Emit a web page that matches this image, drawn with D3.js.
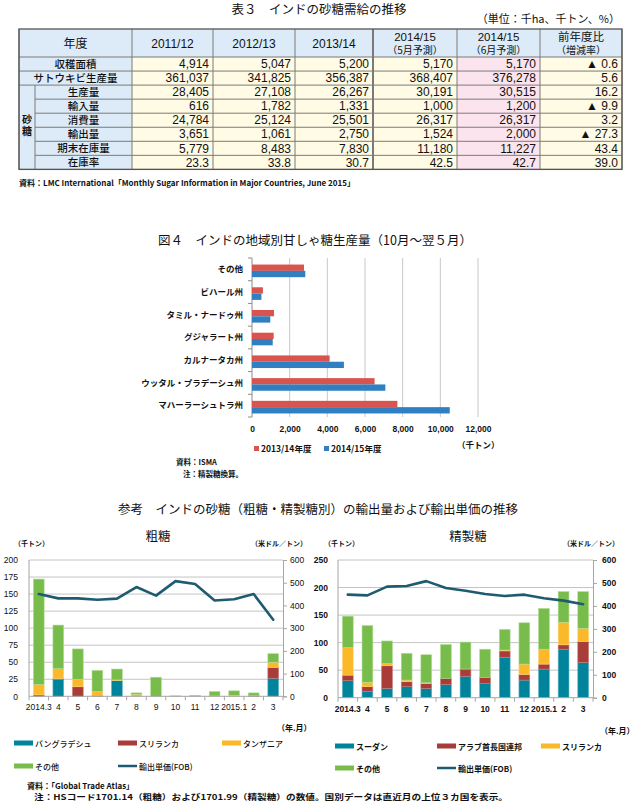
<!DOCTYPE html>
<html><head><meta charset="utf-8">
<script src="https://cdn.jsdelivr.net/npm/d3@7"></script>
<style>
body{margin:0;background:#fff}
svg{display:block}
text{font-family:"Noto Sans CJK JP","Liberation Sans",sans-serif;fill:#111}
</style>
</head><body>
<svg id="c" width="640" height="801"></svg>
<script>
// ================= DATA =================
// Table 3
const tableHeaders = ["年度","2011/12","2012/13","2013/14","2014/15|（5月予測）","2014/15|（6月予測）","前年度比|（増減率）"];
const tableRowLabels = ["収穫面積","サトウキビ生産量","生産量","輸入量","消費量","輸出量","期末在庫量","在庫率"];
const tableGroupLabel = "砂糖";
const tableValues = [
  ["4,914","5,047","5,200","5,170","5,170","▲ 0.6"],
  ["361,037","341,825","356,387","368,407","376,278","5.6"],
  ["28,405","27,108","26,267","30,191","30,515","16.2"],
  ["616","1,782","1,331","1,000","1,200","▲ 9.9"],
  ["24,784","25,124","25,501","26,317","26,317","3.2"],
  ["3,651","1,061","2,750","1,524","2,000","▲ 27.3"],
  ["5,779","8,483","7,830","11,180","11,227","43.4"],
  ["23.3","33.8","30.7","42.5","42.7","39.0"]
];

// Figure 4
const regions = ["その他","ビハール州","タミル・ナードゥ州","グジャラート州","カルナータカ州","ウッタル・プラデーシュ州","マハーラーシュトラ州"];
const regionSeries = ["2013/14年度","2014/15年度"];
const prod1314 = [2760, 580, 1170, 1150, 4120, 6510, 7720];
const prod1415 = [2830, 500, 970, 1100, 4880, 7080, 10500];
const regionTicks = [0,2000,4000,6000,8000,10000,12000];

// Reference charts
const months = ["2014.3","4","5","6","7","8","9","10","11","12","2015.1","2","3"];
const rawKeys = ["バングラデシュ","スリランカ","タンザニア","その他"];
const rawBangladesh = [0,24.5,0,0,23,0,0,0,0,0,0,0,26.5];
const rawSriLanka   = [2,1.5,14,1.5,0,0,0,0,0,0,0,1,16];
const rawTanzania   = [15.5,14.5,11,5.5,1,3,0,0,0,0.5,1.5,0,7.5];
const rawOther      = [154.5,64,44.5,31,16,2,28,0.7,1.3,6.5,6.5,4,12.5];
const rawPrice      = [450,431,431,425,430,481,443,507,494,422,427,450,337];
const rawTicksL = [0,25,50,75,100,125,150,175,200];

const refKeys = ["スーダン","アラブ首長国連邦","スリランカ","その他"];
const refSudan    = [31,11.5,17,20,17,24,39,25.5,73.5,32,52,88,64];
const refUAE      = [10,8.5,41,9,9,11,13,11.5,11.5,10,9,8,38];
const refSriLanka = [50,8,4,3,1,0,0,0,1.5,19,27,41,24];
const refOther    = [57,103,41,48.5,51,61.5,49,51,37.5,75,74,55.5,66.5];
const refPrice    = [449,446,484,487,508,478,466,452,443,449,433,423,407];
const refTicksL = [0,50,100,150,200,250];
const priceTicks = [0,100,200,300,400,500,600];
const priceLabel = "輸出単価(FOB)";

// ================= DRAW =================
const svg = d3.select("#c");
const LAT = '"Liberation Sans", Arial, "Noto Sans CJK JP", sans-serif';
const CJK = '"Noto Sans CJK JP", sans-serif';

// ---------- Table ----------
svg.append("text").attr("x",319).attr("y",14).attr("text-anchor","middle")
  .style("font-size","12.5px").text("表３　インドの砂糖需給の推移");
svg.append("text").attr("x",620).attr("y",23).attr("text-anchor","end")
  .style("font-size","11px").text("（単位：千ha、千トン、%）");

const colX = [19,132,213,295,373,457,540,622];
const tTop = 29, headH = 28, rowH = 14.05, subX = 35;
const rowY = r => tTop + headH + r*rowH;
const tg = svg.append("g");
tableHeaders.forEach((h,c)=>{
  tg.append("rect").attr("x",colX[c]).attr("y",tTop).attr("width",colX[c+1]-colX[c]).attr("height",headH).attr("fill","#dcebf7");
  const parts = h.split("|");
  const cx = (colX[c]+colX[c+1])/2;
  if(parts.length===1){
    tg.append("text").attr("x",cx).attr("y",tTop+headH/2+4.5).attr("text-anchor","middle")
      .style("font-family",c===0?CJK:LAT).style("font-size","12px").text(parts[0]);
  } else {
    tg.append("text").attr("x",cx).attr("y",tTop+12).attr("text-anchor","middle")
      .style("font-family",LAT).style("font-size","11.5px").text(parts[0]);
    tg.append("text").attr("x",cx).attr("y",tTop+24.5).attr("text-anchor","middle")
      .style("font-family",CJK).style("font-size","10px").text(parts[1]);
  }
});
tableRowLabels.forEach((lab,r)=>{
  const y = rowY(r);
  const lx = r<2 ? colX[0] : subX;
  tg.append("rect").attr("x",lx).attr("y",y).attr("width",colX[1]-lx).attr("height",rowH).attr("fill","#dcebf7");
  tg.append("text").attr("x",(lx+colX[1])/2).attr("y",y+rowH/2+3.8).attr("text-anchor","middle")
    .style("font-size","10.5px").style("font-weight","500").text(lab);
  tableValues[r].forEach((v,c)=>{
    tg.append("rect").attr("x",colX[c+1]).attr("y",y).attr("width",colX[c+2]-colX[c+1]).attr("height",rowH)
      .attr("fill", c===4 ? "#fce4ee" : "#fffbe4");
    tg.append("text").attr("x",colX[c+2]-4).attr("y",y+rowH/2+4.2).attr("text-anchor","end")
      .style("font-family",LAT).style("font-size","12px").text(v);
  });
});
tg.append("rect").attr("x",colX[0]).attr("y",rowY(2)).attr("width",subX-colX[0]).attr("height",rowH*6).attr("fill","#dcebf7");
tg.append("text").attr("x",(colX[0]+subX)/2).attr("y",rowY(2)+rowH*3-1).attr("text-anchor","middle")
  .style("writing-mode","vertical-rl").style("font-size","10px").style("font-weight","bold")
  .style("letter-spacing","2px").text(tableGroupLabel);
const lineC = "#7a7a7a";
const tBot = rowY(8);
for(let r=0;r<=8;r++){
  const y = rowY(r);
  const x0 = (r>=3 && r<=7) ? subX : colX[0];
  tg.append("line").attr("x1",x0).attr("x2",colX[7]).attr("y1",y).attr("y2",y).attr("stroke",lineC).attr("stroke-width",1);
}
tg.append("line").attr("x1",subX).attr("x2",subX).attr("y1",rowY(2)).attr("y2",tBot).attr("stroke",lineC);
colX.forEach((x,i)=>{
  tg.append("line").attr("x1",x).attr("x2",x).attr("y1",tTop).attr("y2",tBot)
    .attr("stroke",lineC).attr("stroke-width", i===4 ? 2 : 1);
});
tg.append("rect").attr("x",colX[0]).attr("y",tTop).attr("width",colX[7]-colX[0]).attr("height",tBot-tTop)
  .attr("fill","none").attr("stroke","#555").attr("stroke-width",1.3);
svg.append("text").attr("x",19).attr("y",186).style("font-size","8px").style("font-weight","bold")
  .attr("textLength",336).attr("lengthAdjust","spacingAndGlyphs")
  .text("資料：LMC International「Monthly Sugar Information in Major Countries, June 2015」");

// ---------- Figure 4 ----------
svg.append("text").attr("x",158).attr("y",245).style("font-size","12.5px")
  .text("図４　インドの地域別甘しゃ糖生産量（10月～翌５月）");
const hb = {x0:252, x1:478, y0:258, y1:417};
const hx = d3.scaleLinear().domain([0,12000]).range([hb.x0,hb.x1]);
const hy = d3.scaleBand().domain(regions).range([hb.y0,hb.y1]);
const hsub = d3.scaleBand().domain(regionSeries).range([0,hy.bandwidth()]).paddingInner(0).paddingOuter(0.8).align(0.65);
const hColors = {"2013/14年度":"#d9534f","2014/15年度":"#2f7fc1"};
const hg = svg.append("g");
regionTicks.slice(1).forEach(t=>{
  hg.append("line").attr("x1",hx(t)).attr("x2",hx(t)).attr("y1",hb.y0).attr("y2",hb.y1).attr("stroke","#c8c8c8");
});
hg.append("line").attr("x1",hb.x0).attr("x2",hb.x0).attr("y1",hb.y0).attr("y2",hb.y1).attr("stroke","#8c8c8c");
const bounds = regions.map(r=>hy(r)).concat([hb.y1]);
bounds.forEach(y=>hg.append("line").attr("x1",hb.x0-4).attr("x2",hb.x0).attr("y1",y).attr("y2",y).attr("stroke","#8c8c8c"));
const hData = regions.map((r,i)=>({region:r, vals:[{s:regionSeries[0],v:prod1314[i]},{s:regionSeries[1],v:prod1415[i]}]}));
hg.selectAll("g.reg").data(hData).join("g").attr("class","reg")
  .attr("transform",d=>`translate(0,${hy(d.region)})`)
  .selectAll("rect").data(d=>d.vals).join("rect")
  .attr("x",hx(0)).attr("y",d=>hsub(d.s)).attr("height",hsub.bandwidth())
  .attr("width",d=>hx(d.v)-hx(0)).attr("fill",d=>hColors[d.s]);
hg.append("g").attr("transform",`translate(${hb.x0},0)`)
  .call(d3.axisLeft(hy).tickSize(0).tickPadding(9))
  .call(g=>g.select(".domain").remove())
  .call(g=>g.selectAll("text").style("font-family",CJK).style("font-size","8.5px").style("font-weight","bold").style("fill","#111"));
hg.append("g").attr("transform",`translate(0,${hb.y1})`)
  .call(d3.axisBottom(hx).tickValues(regionTicks).tickFormat(d3.format(",")).tickSize(0).tickPadding(9))
  .call(g=>g.select(".domain").remove())
  .call(g=>g.selectAll("text").style("font-family",LAT).style("font-size","8.5px").style("font-weight","bold").style("fill","#111"));
svg.append("text").attr("x",457).attr("y",448).style("font-size","8.5px").style("font-weight","bold").text("（千トン）");
regionSeries.forEach((s,i)=>{
  const lx = i===0 ? 254 : 324;
  svg.append("rect").attr("x",lx).attr("y",446).attr("width",5).attr("height",5).attr("fill",hColors[s]);
  svg.append("text").attr("x",lx+7).attr("y",452).style("font-size","8.5px").style("font-weight","bold").text(s);
});
svg.append("text").attr("x",176).attr("y",465).style("font-size","7.5px").style("font-weight","bold").text("資料：ISMA");
svg.append("text").attr("x",183).attr("y",477).style("font-size","7.5px").style("font-weight","bold").text("注：精製糖換算。");

// ---------- Reference combo charts ----------
svg.append("text").attr("x",318).attr("y",514).attr("text-anchor","middle").style("font-size","12.5px")
  .text("参考　インドの砂糖（粗糖・精製糖別）の輸出量および輸出単価の推移");

const stackColors = ["#00849b","#a93c38","#fbb829","#78bd4b"];
const stackStroke = ["#5fb3c3","#c97a77","#fdd57d","#b0dc92"];

function drawCombo(cfg){
  const g = svg.append("g");
  const x = d3.scaleBand().domain(months).range([cfg.x0,cfg.x1]).paddingInner(0.45).paddingOuter(0.225);
  const yL = d3.scaleLinear().domain([0,cfg.yMax]).range([cfg.yb,cfg.yt]);
  const yR = d3.scaleLinear().domain([0,600]).range([cfg.yb,cfg.yt]);
  cfg.ticksL.slice(1).forEach(t=>g.append("line").attr("x1",cfg.x0).attr("x2",cfg.x1).attr("y1",yL(t)).attr("y2",yL(t)).attr("stroke","#c4c4c4"));
  const rows = months.map((m,i)=>{const o={m}; cfg.keys.forEach((k,j)=>o[k]=cfg.series[j][i]); return o;});
  const stacked = d3.stack().keys(cfg.keys)(rows);
  g.selectAll("g.s").data(stacked).join("g").attr("class","s")
    .attr("fill",(d,i)=>stackColors[i]).attr("stroke",(d,i)=>stackStroke[i]).attr("stroke-width",0.6)
    .selectAll("rect").data(d=>d).join("rect")
    .attr("x",d=>x(d.data.m)).attr("width",x.bandwidth())
    .attr("y",d=>yL(d[1])).attr("height",d=>Math.max(0,yL(d[0])-yL(d[1])));
  g.append("line").attr("x1",cfg.x0).attr("x2",cfg.x0).attr("y1",cfg.yt).attr("y2",cfg.yb).attr("stroke","#a6a6a6");
  g.append("line").attr("x1",cfg.x0).attr("x2",cfg.x1).attr("y1",cfg.yb).attr("y2",cfg.yb).attr("stroke","#a6a6a6");
  const step = x.step();
  months.map(m=>x(m)-step*0.225).concat([cfg.x1]).forEach(bx=>{
    g.append("line").attr("x1",bx).attr("x2",bx).attr("y1",cfg.yb).attr("y2",cfg.yb+4).attr("stroke","#a6a6a6");
  });
  const line = d3.line().x((d,i)=>x(months[i])+x.bandwidth()/2).y(d=>yR(d));
  g.append("path").datum(cfg.price).attr("d",line).attr("fill","none").attr("stroke","#1f5b70")
    .attr("stroke-width",2.6).attr("stroke-linejoin","round").attr("stroke-linecap","round");
  const fw = cfg.bold ? "bold" : "normal";
  g.append("g").attr("transform",`translate(${cfg.x0},0)`)
    .call(d3.axisLeft(yL).tickValues(cfg.ticksL).tickSize(0).tickPadding(cfg.padL))
    .call(a=>a.select(".domain").remove())
    .call(a=>a.selectAll("text").style("font-family",LAT).style("font-size","8.5px").style("font-weight",fw).style("fill","#111"));
  g.append("g").attr("transform",`translate(${cfg.x1},0)`)
    .call(d3.axisRight(yR).tickValues(priceTicks).tickSize(4).tickPadding(cfg.padR))
    .call(a=>a.select(".domain").attr("stroke","#a6a6a6"))
    .call(a=>a.selectAll(".tick line").attr("stroke","#a6a6a6"))
    .call(a=>a.selectAll("text").style("font-family",LAT).style("font-size","8.5px").style("font-weight",fw).style("fill","#111"));
  g.append("g").attr("transform",`translate(0,${cfg.yb})`)
    .call(d3.axisBottom(x).tickSize(0).tickPadding(8))
    .call(a=>a.select(".domain").remove())
    .call(a=>a.selectAll("text").style("font-family",LAT).style("font-size","8.5px").style("font-weight",fw).style("fill","#111"));
  svg.append("text").attr("x",cfg.titleX).attr("y",541).attr("text-anchor","middle").style("font-size","12.5px").text(cfg.title);
  svg.append("text").attr("x",cfg.unitLX).attr("y",546).style("font-size","7px").style("font-weight","bold").text("（千トン）");
  svg.append("text").attr("x",cfg.unitRX).attr("y",546).attr("text-anchor","end").style("font-size","7px").style("font-weight","bold").text("（米ドル／トン）");
  svg.append("text").attr("x",cfg.ymX).attr("y",cfg.ymY).style("font-size","8px").style("font-weight","bold").text("（年.月）");
  const lg = svg.append("g");
  cfg.keys.forEach((k,i)=>{
    const lx = cfg.legX[i%3], ly = i<3 ? cfg.legY[0] : cfg.legY[1];
    lg.append("rect").attr("x",lx).attr("y",ly-2.5).attr("width",19).attr("height",5).attr("fill",stackColors[i]);
    lg.append("text").attr("x",lx+21).attr("y",ly+3.5).style("font-size","8px").style("font-weight",cfg.bold?"bold":"500").text(k);
  });
  lg.append("line").attr("x1",cfg.legX[1]).attr("x2",cfg.legX[1]+19).attr("y1",cfg.legY[1]).attr("y2",cfg.legY[1])
    .attr("stroke","#1f5b70").attr("stroke-width",2.5);
  lg.append("text").attr("x",cfg.legX[1]+21).attr("y",cfg.legY[1]+3.5).style("font-size","8px").style("font-weight",cfg.bold?"bold":"500").text(priceLabel);
}

drawCombo({x0:29,x1:283,yt:560,yb:696.3,yMax:200,ticksL:rawTicksL,keys:rawKeys,
  series:[rawBangladesh,rawSriLanka,rawTanzania,rawOther],price:rawPrice,bold:false,padL:11,padR:3,
  title:"粗糖",titleX:158,unitLX:14,unitRX:307,ymX:277,ymY:731,legX:[14,118,222],legY:[743,766]});
drawCombo({x0:338,x1:593,yt:560,yb:697.7,yMax:250,ticksL:refTicksL,keys:refKeys,
  series:[refSudan,refUAE,refSriLanka,refOther],price:refPrice,bold:true,padL:10,padR:5,
  title:"精製糖",titleX:468,unitLX:324,unitRX:619,ymX:600,ymY:734,legX:[335,437,541],legY:[746,768]});

svg.append("text").attr("x",27).attr("y",789).style("font-size","8px").style("font-weight","bold").text("資料：「Global Trade Atlas」");
svg.append("text").attr("x",34).attr("y",800).style("font-size","8px").style("font-weight","bold")
  .attr("textLength",474).attr("lengthAdjust","spacingAndGlyphs")
  .text("注：HSコード1701.14（粗糖）および1701.99（精製糖）の数値。国別データは直近月の上位３カ国を表示。");
</script>
</body></html>
